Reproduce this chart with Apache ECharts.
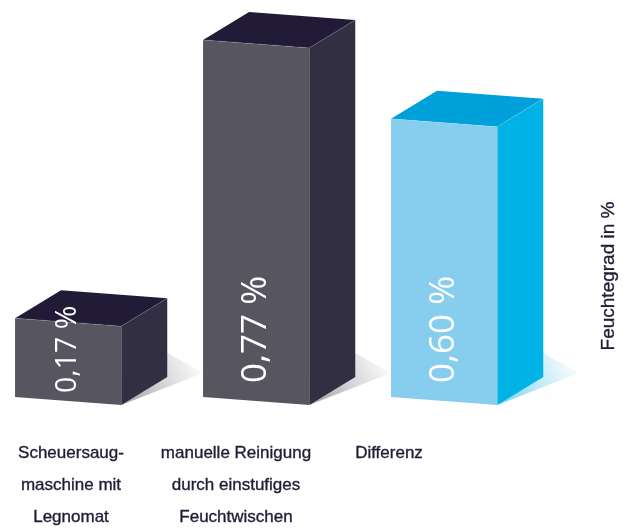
<!DOCTYPE html>
<html>
<head>
<meta charset="utf-8">
<script src="https://cdn.jsdelivr.net/npm/echarts@6/dist/echarts.min.js"></script>
<style>
  html, body { margin: 0; padding: 0; background: #ffffff; }
  #chart { width: 629px; height: 529px; }
</style>
</head>
<body>
<div id="chart"></div>
<script>
// Moisture level left on the floor after cleaning, in percent
const categories = [
  'Scheuersaug-\nmaschine mit\nLegnomat',
  'manuelle Reinigung\ndurch einstufiges\nFeuchtwischen',
  'Differenz'
];
const moistureValues = [0.17, 0.77, 0.60];
const axisTitle = 'Feuchtegrad in %';
const valueAxisMax = 0.8;

// Box face colours: front, side, top, floor shadow
const darkBox = { front: '#57555f', side: '#332f42', top: '#211b37', shadow: '80,80,92' };
const blueBox = { front: '#87cdee', side: '#00b2e6', top: '#00a1da', shadow: '0,170,225' };
const boxStyles = [darkBox, darkBox, blueBox];

// Horizontal shift of each category caption from its band centre
const captionShift = [-23, -46, -81];

// Oblique projection of the box depth
const DEPTH_X = 46;
const DEPTH_Y = -28;
const FRONT_SKEW = 8;

const VALUE_FONT = 35;
const VALUE_TEXT_EM = 3.1; // length of a "0,00 %" label in em

function formatPercent(v) {
  return v.toFixed(2).replace('.', ',') + ' %';
}

function renderBox(params, api) {
  const idx = api.value(0);
  const val = api.value(1);
  const topPt = api.coord([idx, val]);
  const basePt = api.coord([idx, 0]);
  const band = api.size([1, 0])[0];
  const w = band * 0.565;
  const xL = topPt[0] - band * 0.42;
  const xR = xL + w;
  const yT = topPt[1];
  const yB = basePt[1];
  const st = boxStyles[idx];

  const front = [[xL, yT], [xR, yT + FRONT_SKEW], [xR, yB + FRONT_SKEW], [xL, yB]];
  const side = [
    [xR, yT + FRONT_SKEW], [xR + DEPTH_X, yT + FRONT_SKEW + DEPTH_Y],
    [xR + DEPTH_X, yB + FRONT_SKEW + DEPTH_Y], [xR, yB + FRONT_SKEW]
  ];
  const top = [
    [xL, yT], [xL + DEPTH_X, yT + DEPTH_Y],
    [xR + DEPTH_X, yT + FRONT_SKEW + DEPTH_Y], [xR, yT + FRONT_SKEW]
  ];
  const shadow = [
    [xR, yB + FRONT_SKEW],
    [xR + 82, yB + FRONT_SKEW - 32],
    [xR + DEPTH_X, yB + FRONT_SKEW + DEPTH_Y - 24]
  ];

  // rotated value label near the floor; on a short box it is shrunk and centred in the dark area
  let fontSize = VALUE_FONT;
  let labelStart = yB - 14;
  const darkTop = yT + DEPTH_Y * 0.55;
  if (labelStart - fontSize * VALUE_TEXT_EM < darkTop) {
    const avail = (yB - 6) - darkTop;
    fontSize = Math.min(VALUE_FONT, avail / VALUE_TEXT_EM);
    labelStart = (darkTop + yB - 2) / 2 + fontSize * VALUE_TEXT_EM / 2;
  }

  return {
    type: 'group',
    children: [
      {
        type: 'polygon',
        shape: { points: shadow },
        style: {
          fill: {
            type: 'linear', x: 0, y: 1, x2: 1, y2: 0.2,
            colorStops: [
              { offset: 0, color: 'rgba(' + st.shadow + ',0.55)' },
              { offset: 0.55, color: 'rgba(' + st.shadow + ',0.22)' },
              { offset: 1, color: 'rgba(' + st.shadow + ',0)' }
            ]
          }
        }
      },
      { type: 'polygon', shape: { points: side }, style: { fill: st.side } },
      { type: 'polygon', shape: { points: top }, style: { fill: st.top } },
      { type: 'polygon', shape: { points: front }, style: { fill: st.front } },
      {
        type: 'polyline',
        shape: { points: [[xL, yT], [xR, yT + FRONT_SKEW], [xR + DEPTH_X, yT + FRONT_SKEW + DEPTH_Y]] },
        style: { stroke: 'rgba(255,255,255,0.18)', lineWidth: 0.8, fill: null }
      },
      {
        type: 'text',
        x: xL + w / 2,
        y: labelStart,
        rotation: Math.PI / 2,
        style: {
          text: formatPercent(val),
          fill: '#ffffff',
          font: '400 ' + fontSize.toFixed(1) + 'px "Open Sans", "DejaVu Sans", sans-serif',
          align: 'left',
          verticalAlign: 'middle'
        }
      },
      {
        type: 'text',
        x: basePt[0] + captionShift[idx],
        y: yB + 40,
        style: {
          text: categories[idx],
          fill: '#1f1c35',
          stroke: '#1f1c35',
          lineWidth: 0.35,
          font: '17px "Liberation Sans", Arial, sans-serif',
          lineHeight: 32,
          align: 'center',
          verticalAlign: 'top'
        }
      }
    ]
  };
}

const chart = echarts.init(document.getElementById('chart'), null, { renderer: 'canvas' });
chart.setOption({
  animation: false,
  backgroundColor: '#ffffff',
  grid: { left: 0, right: 65, top: 26, bottom: 132 },
  xAxis: {
    type: 'category',
    data: categories,
    show: false
  },
  yAxis: {
    type: 'value',
    min: 0,
    max: valueAxisMax,
    show: false
  },
  graphic: [{
    type: 'text',
    x: 609,
    y: 276,
    rotation: Math.PI / 2,
    style: {
      text: axisTitle,
      fill: '#1f1c35',
      stroke: '#1f1c35',
      lineWidth: 0.35,
      font: '19px "Liberation Sans", Arial, sans-serif',
      align: 'center',
      verticalAlign: 'middle'
    }
  }],
  series: [{
    type: 'custom',
    clip: false,
    renderItem: renderBox,
    encode: { x: 0, y: 1 },
    data: moistureValues.map((v, i) => [i, v])
  }]
});
</script>
</body>
</html>
